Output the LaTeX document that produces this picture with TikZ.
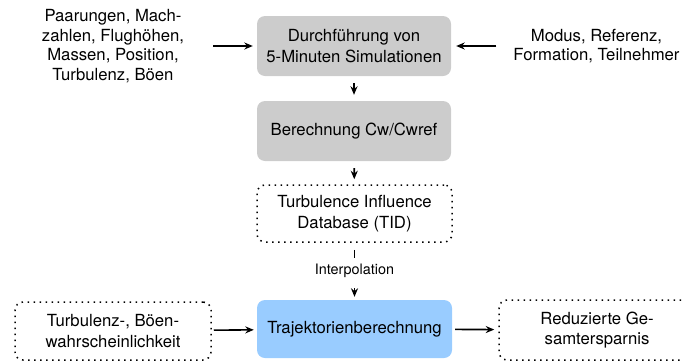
\documentclass[tikz,border=0pt]{standalone}
\usepackage{fontspec}
\setmainfont{TeX Gyre Heros}
\usetikzlibrary{arrows.meta}
\definecolor{boxgray}{HTML}{CCCCCC}
\definecolor{boxblue}{HTML}{99CCFF}
\begin{document}
\begin{tikzpicture}[x=1pt,y=-1pt,
  every node/.style={font=\fontsize{16.7}{20.5}\selectfont, align=center},
  graybox/.style={fill=boxgray, rounded corners=8pt, minimum width=194pt, minimum height=60pt, inner sep=0pt},
  bluebox/.style={fill=boxblue, rounded corners=8pt, minimum width=195pt, minimum height=58pt, inner sep=0pt},
  dotbox/.style={draw, line width=1.5pt, dash pattern=on 1.5pt off 4.5pt, rounded corners=8pt, minimum width=196pt, minimum height=58pt, inner sep=0pt},
  plaintext/.style={font=\fontsize{16.7}{19.5}\selectfont, inner sep=3pt},
  conn/.style={line width=1.6pt, -{Stealth[length=8.5pt,width=7pt]}},
  small/.style={font=\fontsize{14.4}{17}\selectfont}
]
\useasboundingbox (0,0) rectangle (684,362);

\node[graybox] (sim) at (354,46) {Durchführung von\\5-Minuten Simulationen};
\node[graybox] (cw) at (354,131) {Berechnung Cw/Cwref};
\node[dotbox, minimum width=195pt, minimum height=57pt] (tid) at (354.5,213.5) {Turbulence Influence\\Database (TID)};
\node[small, fill=white, inner sep=6pt] (interp) at (354.5,271) {Interpolation};
\node[bluebox] (traj) at (354.5,329) {Trajektorienberechnung};
\node[dotbox] (prob) at (113,331) {Turbulenz-, Böen-\\wahrscheinlichkeit};
\node[dotbox, minimum height=60pt] (save) at (597,330) {Reduzierte Ge-\\samtersparnis};

\node[plaintext] (inl) at (113,46) {Paarungen, Mach-\\zahlen, Flughöhen,\\Massen, Position,\\Turbulenz, Böen};
\node[plaintext] (inr) at (596.5,46) {Modus, Referenz,\\Formation, Teilnehmer};

\draw[conn, shorten <=26pt, shorten >=4pt] (inl.east) -- (sim.west);
\draw[conn, shorten <=14pt, shorten >=5pt] (inr.west) -- (sim.east);
\draw[conn, shorten <=7pt, shorten >=6pt] (sim) -- (cw);
\draw[conn, shorten <=7pt, shorten >=5pt] (cw) -- (tid);
\draw[line width=1.6pt, shorten <=7pt] (tid) -- (interp);
\draw[conn, shorten <=4pt, shorten >=3pt] (interp) -- (traj);
\draw[conn, shorten <=2pt, shorten >=3pt] (prob) -- (traj);
\draw[conn, shorten <=3pt, shorten >=4pt] (traj) -- (save);
\end{tikzpicture}
\end{document}
